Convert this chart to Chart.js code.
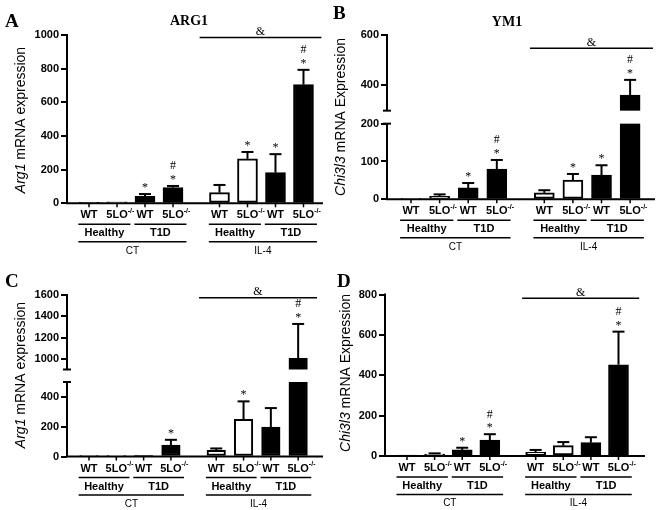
<!DOCTYPE html>
<html>
<head>
<meta charset="utf-8">
<script src="https://cdn.jsdelivr.net/npm/chart.js@4.4.0/dist/chart.umd.min.js"></script>
<style>
  body { margin: 0; background: #fff; }
  #wrap { position: relative; width: 660px; height: 510px; }
  canvas { position: absolute; }
</style>
</head>
<body>
<div id="wrap">
  <canvas id="cA" width="330" height="255" style="left:0;top:0"></canvas>
  <canvas id="cB" width="330" height="255" style="left:330px;top:0"></canvas>
  <canvas id="cC" width="330" height="255" style="left:0;top:255px"></canvas>
  <canvas id="cD" width="330" height="255" style="left:330px;top:255px"></canvas>
</div>
<script>
const SANS = "'Liberation Sans', Arial, sans-serif";
const SERIF = "'Liberation Serif', 'Times New Roman', serif";

// bar order: Healthy WT, Healthy 5LO, T1D WT, T1D 5LO under CT, then the same under IL-4
const genotypes = ['WT', '5LO', 'WT', '5LO', 'WT', '5LO', 'WT', '5LO'];
const conditions = ['Healthy', 'T1D', 'Healthy', 'T1D'];
const treatments = ['CT', 'IL-4'];
const barColors = ['#fff', '#fff', '#000', '#000', '#fff', '#fff', '#000', '#000'];
const slots = [0, 1, 2, 3, 4.66, 5.66, 6.66, 7.66];

// A - ARG1
const arg1A = [1, 8, 42, 93, 63, 264, 182, 705];
const arg1AErr = [0, 0, 13, 10, 46, 41, 110, 88];
const arg1AMarks = ['', '', '*', '#*', '', '*', '*', '#*'];
const arg1ATicks = [0, 200, 400, 600, 800, 1000];

// B - YM1
const ym1B = [2, 8, 30, 80, 17, 51, 64, 362];
const ym1BErr = [0, 5, 13, 24, 7, 16, 26, 60];
const ym1BMarks = ['', '', '*', '#*', '', '*', '*', '#*'];
const ym1BTicks = [0, 100, 200, 400, 600];

// C - Arg1
const arg1C = [1, 4, 4, 77, 42, 250, 197, 1006];
const arg1CErr = [0, 0, 0, 35, 12, 120, 128, 322];
const arg1CMarks = ['', '', '', '*', '', '*', '', '#*'];
const arg1CTicks = [0, 200, 400, 1000, 1200, 1400, 1600];

// D - Chi3l3
const ym1D = [1, 10, 30, 79, 18, 51, 66, 452];
const ym1DErr = [0, 3, 11, 29, 12, 18, 27, 164];
const ym1DMarks = ['', '', '*', '#*', '', '', '', '#*'];
const ym1DTicks = [0, 200, 400, 600, 800];

// y axis with a gap: lower part [min, brkLow], upper part [brkHigh, max]
class BrokenScale extends Chart.LinearScale {
  getPixelForValue(v) {
    const o = this.options;
    const lo = o.brkLow, hi = o.brkHigh, gap = o.brkGap;
    const seg = (this.bottom - this.top - gap) / 2;
    if (v <= lo) return this.bottom - (v - this.min) / (lo - this.min) * seg;
    if (v >= hi) return this.top + (this.max - v) / (this.max - hi) * seg;
    return this.bottom - seg - (v - lo) / (hi - lo) * gap;
  }
  getValueForPixel(px) {
    const o = this.options;
    const lo = o.brkLow, hi = o.brkHigh, gap = o.brkGap;
    const seg = (this.bottom - this.top - gap) / 2;
    if (px >= this.bottom - seg) return this.min + (this.bottom - px) / seg * (lo - this.min);
    if (px <= this.top + seg) return this.max - (px - this.top) / seg * (this.max - hi);
    return lo + (this.bottom - seg - px) / gap * (hi - lo);
  }
}
BrokenScale.id = 'broken';
BrokenScale.defaults = Chart.LinearScale.defaults;
Chart.register(BrokenScale);

const panels = [
  { id: 'cA', letter: 'A', letterAt: [5, 27], title: 'ARG1', titleAt: [189, 25],
    gene: 'Arg1', rest: ' mRNA expression', yTitleAt: [25, 120], yTitleSize: 14,
    vals: arg1A, err: arg1AErr, marks: arg1AMarks, ticks: arg1ATicks, max: 1000,
    left: 67, top: 35, right: 323, bottom: 203.3, xmin: -0.786, xmax: 8.357, barW: 20,
    amp: [985, -0.71, 0.64] },
  { id: 'cB', letter: 'B', letterAt: [3, 19], title: 'YM1', titleAt: [177, 26],
    gene: 'Chi3l3', rest: ' mRNA Expression', yTitleAt: [15, 117], yTitleSize: 14,
    vals: ym1B, err: ym1BErr, marks: ym1BMarks, ticks: ym1BTicks, max: 600,
    brk: { low: 200, high: 300, gap: 13 },
    left: 57, top: 35, right: 325, bottom: 199.3, xmin: -0.839, xmax: 8.53, barW: 20,
    amp: [547, -0.5, 0.8] },
  { id: 'cC', letter: 'C', letterAt: [5, 32], title: '', titleAt: [0, 0],
    gene: 'Arg1', rest: ' mRNA expression', yTitleAt: [25, 120], yTitleSize: 14,
    vals: arg1C, err: arg1CErr, marks: arg1CMarks, ticks: arg1CTicks, max: 1600,
    brk: { low: 500, high: 900, gap: 12.5 },
    left: 67, top: 40, right: 323, bottom: 201.5, xmin: -0.806, xmax: 8.57, barW: 18.5,
    amp: [1575, -0.63, 0.69] },
  { id: 'cD', letter: 'D', letterAt: [7, 32], title: '', titleAt: [0, 0],
    gene: 'Chi3l3', rest: ' mRNA Expression', yTitleAt: [19.5, 118], yTitleSize: 14,
    vals: ym1D, err: ym1DErr, marks: ym1DMarks, ticks: ym1DTicks, max: 800,
    left: 55, top: 39.5, right: 315, bottom: 201, xmin: -0.797, xmax: 8.62, barW: 20,
    amp: [781, -0.49, 0.75] },
];

function seg(ctx, x0, y0, x1, y1) {
  ctx.beginPath();
  ctx.moveTo(x0, y0);
  ctx.lineTo(x1, y1);
  ctx.stroke();
}

function makeDecor(p) {
  return {
    id: 'decor' + p.letter,
    afterDatasetsDraw(chart) {
      const ctx = chart.ctx, a = chart.chartArea;
      const xs = chart.scales.x, ys = chart.scales.y;
      const bars = chart.getDatasetMeta(0).data;
      const B = a.bottom;
      ctx.save();
      ctx.strokeStyle = '#000';
      ctx.fillStyle = '#000';

      let lowTop, highBot;
      if (p.brk) {
        lowTop = ys.getPixelForValue(p.brk.low);
        highBot = ys.getPixelForValue(p.brk.high);
        ctx.fillStyle = '#fff';
        ctx.fillRect(a.left + 1, highBot, a.right - a.left, lowTop - highBot);
        ctx.fillStyle = '#000';
      }

      // error bars and significance marks
      ctx.lineWidth = 2;
      ctx.textAlign = 'center';
      ctx.textBaseline = 'alphabetic';
      bars.forEach((el, i) => {
        const v = p.vals[i], e = p.err[i];
        const y0 = ys.getPixelForValue(v);
        const y1 = ys.getPixelForValue(v + e);
        if (e) {
          seg(ctx, el.x, y0, el.x, y1);
          seg(ctx, el.x - 6, y1, el.x + 6, y1);
        }
        const m = p.marks[i];
        ctx.font = '12px ' + SERIF;
        if (m.includes('*')) ctx.fillText('*', el.x, y1 - 3);
        if (m.includes('#')) ctx.fillText('#', el.x, y1 - 16.5);
      });

      // axes
      ctx.lineWidth = 2;
      seg(ctx, a.left - 1, B, a.right, B);
      if (p.brk) {
        seg(ctx, a.left, B, a.left, lowTop);
        seg(ctx, a.left - 4, lowTop, a.left + 4, lowTop);
        seg(ctx, a.left, highBot, a.left, a.top - 1);
        seg(ctx, a.left - 4, highBot, a.left + 4, highBot);
      } else {
        seg(ctx, a.left, B, a.left, a.top - 1);
      }

      // genotype labels under each bar
      ctx.textBaseline = 'middle';
      bars.forEach((el, i) => {
        ctx.lineWidth = 1.5;
        seg(ctx, el.x, B, el.x, B + 4);
        ctx.font = 'bold 11px ' + SANS;
        if (genotypes[i] === 'WT') {
          ctx.textAlign = 'center';
          ctx.fillText('WT', el.x, B + 12);
        } else {
          const w = ctx.measureText('5LO').width;
          ctx.textAlign = 'left';
          ctx.fillText('5LO', el.x - w / 2, B + 12);
          ctx.font = 'bold 7px ' + SANS;
          ctx.fillText('-/-', el.x + w / 2, B + 8);
        }
      });

      // condition and treatment brackets
      ctx.textAlign = 'center';
      ctx.lineWidth = 1.5;
      conditions.forEach((t, k) => {
        const x0 = xs.getPixelForValue(slots[2 * k] - 0.38);
        const x1 = xs.getPixelForValue(slots[2 * k + 1] + 0.48);
        seg(ctx, x0, B + 21, x1, B + 21);
        ctx.font = 'bold 11px ' + SANS;
        ctx.fillText(t, (x0 + x1) / 2, B + 30);
      });
      treatments.forEach((t, k) => {
        const x0 = xs.getPixelForValue(slots[4 * k] - 0.38);
        const x1 = xs.getPixelForValue(slots[4 * k + 3] + 0.48);
        seg(ctx, x0, B + 38.5, x1, B + 38.5);
        ctx.font = '10px ' + SANS;
        ctx.fillText(t, (x0 + x1) / 2, B + 47.5);
      });

      // & bracket over IL-4 group
      const ay = ys.getPixelForValue(p.amp[0]);
      const ax0 = xs.getPixelForValue(slots[4] + p.amp[1]);
      const ax1 = xs.getPixelForValue(slots[7] + p.amp[2]);
      ctx.lineWidth = 1.5;
      seg(ctx, ax0, ay, ax1, ay);
      ctx.textBaseline = 'alphabetic';
      ctx.font = '12px ' + SERIF;
      ctx.fillText('&', (ax0 + ax1) / 2, ay - 2.5);

      // panel letter and title
      ctx.textAlign = 'left';
      ctx.font = 'bold 19px ' + SERIF;
      ctx.fillText(p.letter, p.letterAt[0], p.letterAt[1]);
      if (p.title) {
        ctx.textAlign = 'center';
        ctx.font = 'bold 14px ' + SERIF;
        ctx.fillText(p.title, p.titleAt[0], p.titleAt[1]);
      }

      // rotated y title with italic gene name
      const fItal = 'italic ' + p.yTitleSize + 'px ' + SANS;
      const fNorm = p.yTitleSize + 'px ' + SANS;
      ctx.font = fItal;
      const w1 = ctx.measureText(p.gene).width;
      ctx.font = fNorm;
      const w2 = ctx.measureText(p.rest).width;
      ctx.translate(p.yTitleAt[0], p.yTitleAt[1]);
      ctx.rotate(-Math.PI / 2);
      ctx.textAlign = 'left';
      ctx.font = fItal;
      ctx.fillText(p.gene, -(w1 + w2) / 2, 0);
      ctx.font = fNorm;
      ctx.fillText(p.rest, -(w1 + w2) / 2 + w1, 0);
      ctx.restore();
    }
  };
}

panels.forEach(p => {
  const yScale = {
    type: p.brk ? 'broken' : 'linear',
    min: 0,
    max: p.max,
    afterBuildTicks: s => { s.ticks = p.ticks.map(v => ({ value: v })); },
    afterFit: s => { s.width = p.left; },
    grid: { display: true, drawOnChartArea: false, drawTicks: true, tickLength: 6, color: '#000', lineWidth: 2 },
    border: { display: false },
    ticks: {
      color: '#000',
      padding: 2,
      autoSkip: false,
      font: { family: SANS, size: 11, weight: 'bold' },
      callback: v => String(v)
    }
  };
  if (p.brk) {
    yScale.brkLow = p.brk.low;
    yScale.brkHigh = p.brk.high;
    yScale.brkGap = p.brk.gap;
  }
  new Chart(document.getElementById(p.id), {
    type: 'bar',
    data: {
      datasets: [{
        data: p.vals.map((v, i) => ({ x: slots[i], y: v })),
        backgroundColor: barColors,
        borderColor: '#000',
        borderWidth: 2,
        borderSkipped: false,
        barThickness: p.barW
      }]
    },
    options: {
      responsive: false,
      animation: false,
      layout: { padding: { left: 0, top: p.top, right: 330 - p.right, bottom: 255 - p.bottom } },
      plugins: { legend: { display: false }, tooltip: { enabled: false } },
      scales: {
        x: { type: 'linear', display: false, offset: false, min: p.xmin, max: p.xmax },
        y: yScale
      }
    },
    plugins: [makeDecor(p)]
  });
});
</script>
</body>
</html>
